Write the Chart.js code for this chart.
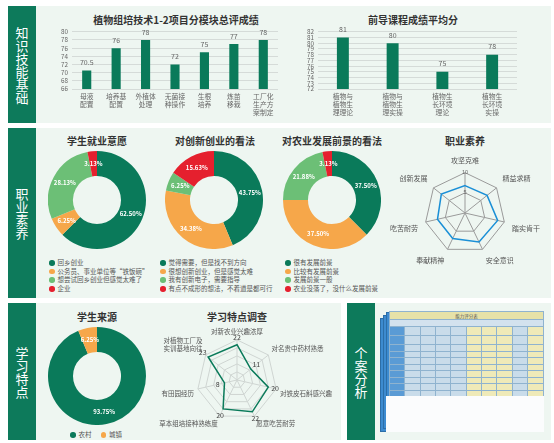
<!DOCTYPE html>
<html>
<head>
<meta charset="utf-8">
<script src="https://cdn.jsdelivr.net/npm/chart.js@4"></script>
<style>
  body { margin:0; width:554px; height:443px; background:#fff; position:relative; overflow:hidden;
         font-family:"Noto Sans CJK SC", sans-serif; }
  .panel { position:absolute; background:#eef6f1; }
  .bar { position:absolute; background:#0d7a5b; color:#fff; display:flex; align-items:center; justify-content:center; }
  .bar span { font-size:13px; line-height:13px; font-weight:normal; text-align:center; }
  .box { position:absolute; }
  .title { position:absolute; font-size:10px; font-weight:bold; color:#333; transform:translateX(-50%); white-space:nowrap; }
  .legend { position:absolute; font-size:6.5px; color:#555; white-space:nowrap; }
  .legend div { height:8.7px; line-height:8.7px; }
  .legend i { display:inline-block; width:5.5px; height:5.5px; border-radius:50%; margin-right:3px; vertical-align:-0.5px; }
  .sheet { position:absolute; background:#3d8bd0; border:1px solid #2c6ea8; }
  table.card { position:absolute; border-collapse:collapse; font-size:3.5px; color:#555; }
  table.card td { border:0.5px solid #8fb3cf; padding:0; height:5px; }
</style>
</head>
<body>
<!-- row 1 -->
<div class="bar" style="left:8px;top:6px;width:28px;height:117px"><span>知<br>识<br>技<br>能<br>基<br>础</span></div>
<div class="panel" style="left:36px;top:6px;width:515px;height:117px"></div>
<!-- row 2 -->
<div class="bar" style="left:8px;top:128px;width:28px;height:170px"><span>职<br>业<br>素<br>养</span></div>
<div class="panel" style="left:36px;top:128px;width:515px;height:170px"></div>
<!-- row 3 -->
<div class="bar" style="left:8px;top:303px;width:28px;height:137px"><span>学<br>习<br>特<br>点</span></div>
<div class="panel" style="left:36px;top:303px;width:305px;height:137px"></div>
<div class="bar" style="left:347px;top:303px;width:28px;height:137px"><span>个<br>案<br>分<br>析</span></div>
<div class="panel" style="left:375px;top:303px;width:176px;height:137px"></div>

<div class="title" style="left:176px;top:12px">植物组培技术1-2项目分模块总评成绩</div>
<div class="title" style="left:413px;top:12px">前导课程成绩平均分</div>
<div class="title" style="left:97px;top:133px">学生就业意愿</div>
<div class="title" style="left:215px;top:133px">对创新创业的看法</div>
<div class="title" style="left:332px;top:133px">对农业发展前景的看法</div>
<div class="title" style="left:465px;top:133px">职业素养</div>
<div class="title" style="left:97px;top:309px">学生来源</div>
<div class="title" style="left:237px;top:309px">学习特点调查</div>

<div class="box" style="left:42px;top:24px;width:236px;height:95px"><canvas id="c1"></canvas></div>
<div class="box" style="left:288px;top:24px;width:229px;height:95px"><canvas id="c2"></canvas></div>
<div class="box" style="left:48px;top:151px;width:98px;height:98px"><canvas id="d1"></canvas></div>
<div class="box" style="left:165px;top:151px;width:98px;height:98px"><canvas id="d2"></canvas></div>
<div class="box" style="left:283px;top:151px;width:98px;height:98px"><canvas id="d3"></canvas></div>
<div class="box" style="left:390px;top:152px;width:150px;height:118px"><canvas id="r1"></canvas></div>
<div class="box" style="left:48px;top:327px;width:98px;height:98px"><canvas id="d4"></canvas></div>
<div class="box" style="left:150px;top:321px;width:190px;height:113px"><canvas id="r2"></canvas></div>

<div class="legend" id="lg1" style="left:49px;top:258px"></div>
<div class="legend" id="lg2" style="left:160px;top:258px"></div>
<div class="legend" id="lg3" style="left:285px;top:258px"></div>
<div class="legend" id="lg4" style="left:70px;top:429px"></div>

<!-- case analysis picture -->
<div class="sheet" style="left:380px;top:318px;width:155px;height:112px"></div>
<div class="sheet" style="left:383px;top:315px;width:155px;height:112px"></div>
<div class="sheet" style="left:386px;top:312px;width:155px;height:112px"></div>
<table class="card" id="card" style="left:389px;top:311px;width:155px"></table>
<div style="position:absolute;left:386px;top:396px;width:158px;height:36px;background:#fbfcfd"></div>

<script>
const moduleLabels = [['母液','配置'],['培养基','配置'],['外植体','处理'],['无菌接','种操作'],['生根','培养'],['炼苗','移栽'],['工厂化','生产方','案制定']];
const moduleScores = [70.5, 76, 78, 72, 75, 77, 78];

const courseLabels = [['植物与','植物生','理理论'],['植物与','植物生','理实操'],['植物生','长环境','理论'],['植物生','长环境','实操']];
const courseScores = [81, 80, 75, 78];

const jobLabels = ['回乡创业','公务员、事业单位等“铁饭碗”','想尝试回乡创业但感觉太难了','企业'];
const jobShares = [62.50, 6.25, 28.13, 3.13];

const innovLabels = ['觉得需要，但是找不到方向','很想创新创业，但是感觉太难','我有创新电子，需要指导','有点不成形的想法，不着道是都可行'];
const innovShares = [43.75, 34.38, 6.25, 15.63];

const outlookLabels = ['很有发展前景','比较有发展前景','发展前景一般','农业没落了，没什么发展前景'];
const outlookShares = [37.50, 37.50, 21.88, 3.13];

const qualityLabels = ['攻坚克难','精益求精','踏实肯干','安全意识','奉献精神','吃苦耐劳','创新发展'];
const qualityScores = [6.8, 7, 8.3, 8, 7, 7, 7.5];

const originLabels = ['农村','城镇'];
const originShares = [93.75, 6.25];

const studyLabels = ['对新农业兴趣浓厚','对名贵中药材熟悉','对铁皮石斛感兴趣','愿意吃苦耐劳','草本组培接种熟练度','有田园经历',['对植物工厂及','实训基地向往']];
const studyCounts = [22, 11, 20, 22, 20, 8, 23];

const GREEN = '#0a7a5a', ORANGE = '#f6a74a', LIGHT = '#6cbf76', RED = '#e5202e';
const pieColors = [GREEN, ORANGE, LIGHT, RED];
const FONT = '"Noto Sans CJK SC", sans-serif';

// small plugin that writes the values onto the marks
const valueLabels = {
  id: 'valueLabels',
  afterDatasetsDraw(chart, args, opts) {
    const ctx = chart.ctx;
    const meta = chart.getDatasetMeta(0);
    const data = chart.data.datasets[0].data;
    ctx.save();
    ctx.font = opts.font;
    ctx.fillStyle = opts.color;
    ctx.textAlign = 'center';
    ctx.textBaseline = 'middle';
    meta.data.forEach((el, i) => {
      if (opts.mode === 'bar') {
        ctx.fillText(data[i], el.x, el.y - 8);
      } else if (opts.mode === 'arc') {
        const p = el.tooltipPosition();
        ctx.fillText(data[i].toFixed(2) + '%', p.x, p.y);
      } else if (opts.mode === 'radar') {
        const s = chart.scales.r;
        const a = Math.atan2(el.y - s.yCenter, el.x - s.xCenter);
        ctx.fillText(data[i], el.x + Math.cos(a) * 7, el.y + Math.sin(a) * 7);
      }
    });
    ctx.restore();
  }
};

function barChart(id, labels, values, min, max, step, barPct) {
  new Chart(document.getElementById(id), {
    type: 'bar',
    data: { labels: labels, datasets: [{ data: values, backgroundColor: GREEN, barPercentage: barPct, categoryPercentage: 1 }] },
    plugins: [valueLabels],
    options: {
      responsive: true, maintainAspectRatio: false, animation: false,
      layout: { padding: { top: 7, right: 0 } },
      plugins: { legend: { display: false }, tooltip: { enabled: false },
        valueLabels: { mode: 'bar', font: '7px ' + FONT, color: '#666' } },
      scales: {
        x: { grid: { display: false, drawTicks: false }, border: { display: false },
             ticks: { font: { size: 6.8, family: FONT, lineHeight: 1.12 }, color: '#666', padding: 4, maxRotation: 0, autoSkip: false },
             afterFit: s => { s.height = 30; } },
        y: { min: min, max: max, grid: { color: '#d5dbd8', drawTicks: false }, border: { display: false },
             ticks: { stepSize: step, autoSkip: false, font: { size: 6.3, family: FONT }, color: '#666', padding: 4 },
             afterFit: s => { s.width = 30; } }
      }
    }
  });
}
barChart('c1', moduleLabels, moduleScores, 66, 80, 2, 0.31);
barChart('c2', courseLabels, courseScores, 72, 82, 1, 0.24);

function donut(id, labels, values) {
  new Chart(document.getElementById(id), {
    type: 'doughnut',
    data: { labels: labels, datasets: [{ data: values, backgroundColor: pieColors.slice(0, values.length), borderWidth: 0 }] },
    plugins: [valueLabels],
    options: {
      responsive: true, maintainAspectRatio: false, animation: false, cutout: '49%',
      plugins: { legend: { display: false }, tooltip: { enabled: false },
        valueLabels: { mode: 'arc', font: 'bold 6px ' + FONT, color: '#fff' } }
    }
  });
}
donut('d1', jobLabels, jobShares);
donut('d2', innovLabels, innovShares);
donut('d3', outlookLabels, outlookShares);
donut('d4', originLabels, originShares);

function legend(id, labels, inline) {
  const el = document.getElementById(id);
  el.innerHTML = labels.map((t, i) =>
    (inline ? '<span style="margin-right:9px">' : '<div>') + '<i style="background:' + pieColors[i] + '"></i>' + t + (inline ? '</span>' : '</div>')
  ).join('');
}
legend('lg1', jobLabels);
legend('lg2', innovLabels);
legend('lg3', outlookLabels);
legend('lg4', originLabels, true);

new Chart(document.getElementById('r1'), {
  type: 'radar',
  data: { labels: qualityLabels, datasets: [{ data: qualityScores, borderColor: '#1a8fd6', borderWidth: 1.5, fill: false, pointRadius: 0 }] },
  options: {
    responsive: true, maintainAspectRatio: false, animation: false,
    plugins: { legend: { display: false }, tooltip: { enabled: false } },
    scales: { r: { min: 0, max: 10,
      ticks: { stepSize: 5, font: { size: 5.5 }, color: '#666', backdropColor: 'rgba(0,0,0,0)', z: 1 },
      grid: { color: '#9a9a9a' }, angleLines: { color: '#9a9a9a' },
      pointLabels: { font: { size: 7, family: FONT }, color: '#555', padding: 3 } } }
  }
});

new Chart(document.getElementById('r2'), {
  type: 'radar',
  data: { labels: studyLabels, datasets: [{ data: studyCounts, borderColor: GREEN, borderWidth: 1.5, fill: false, pointRadius: 0 }] },
  plugins: [valueLabels],
  options: {
    responsive: true, maintainAspectRatio: false, animation: false,
    plugins: { legend: { display: false }, tooltip: { enabled: false },
      valueLabels: { mode: 'radar', font: '7px ' + FONT, color: '#444' } },
    scales: { r: { min: 0, max: 25,
      ticks: { stepSize: 5, display: false },
      grid: { color: '#cfd5d2' }, angleLines: { color: '#cfd5d2' },
      pointLabels: { font: { size: 6.5, family: FONT }, color: '#555', padding: 4 } } }
  }
});

// case analysis sheet: a plain evaluation table
const card = document.getElementById('card');
let rows = '<tr><td colspan="10" style="background:#e6e2a8;text-align:center;height:7px;font-size:4.5px">能力评分表</td></tr>';
rows += '<tr><td colspan="10" style="background:#d3e2ee;height:6px"></td></tr>';
for (let r = 0; r < 10; r++) {
  let tr = '<tr>';
  for (let c = 0; c < 10; c++) {
    const bg = c === 0 ? '#5a9bd5' : (c >= 5 && c <= 7) || c === 9 ? '#efeab8' : '#c9dcea';
    tr += '<td style="background:' + bg + ';height:' + (r < 2 ? 8 : 5.5) + 'px"></td>';
  }
  rows += tr + '</tr>';
}
card.innerHTML = rows;
</script>
</body>
</html>
